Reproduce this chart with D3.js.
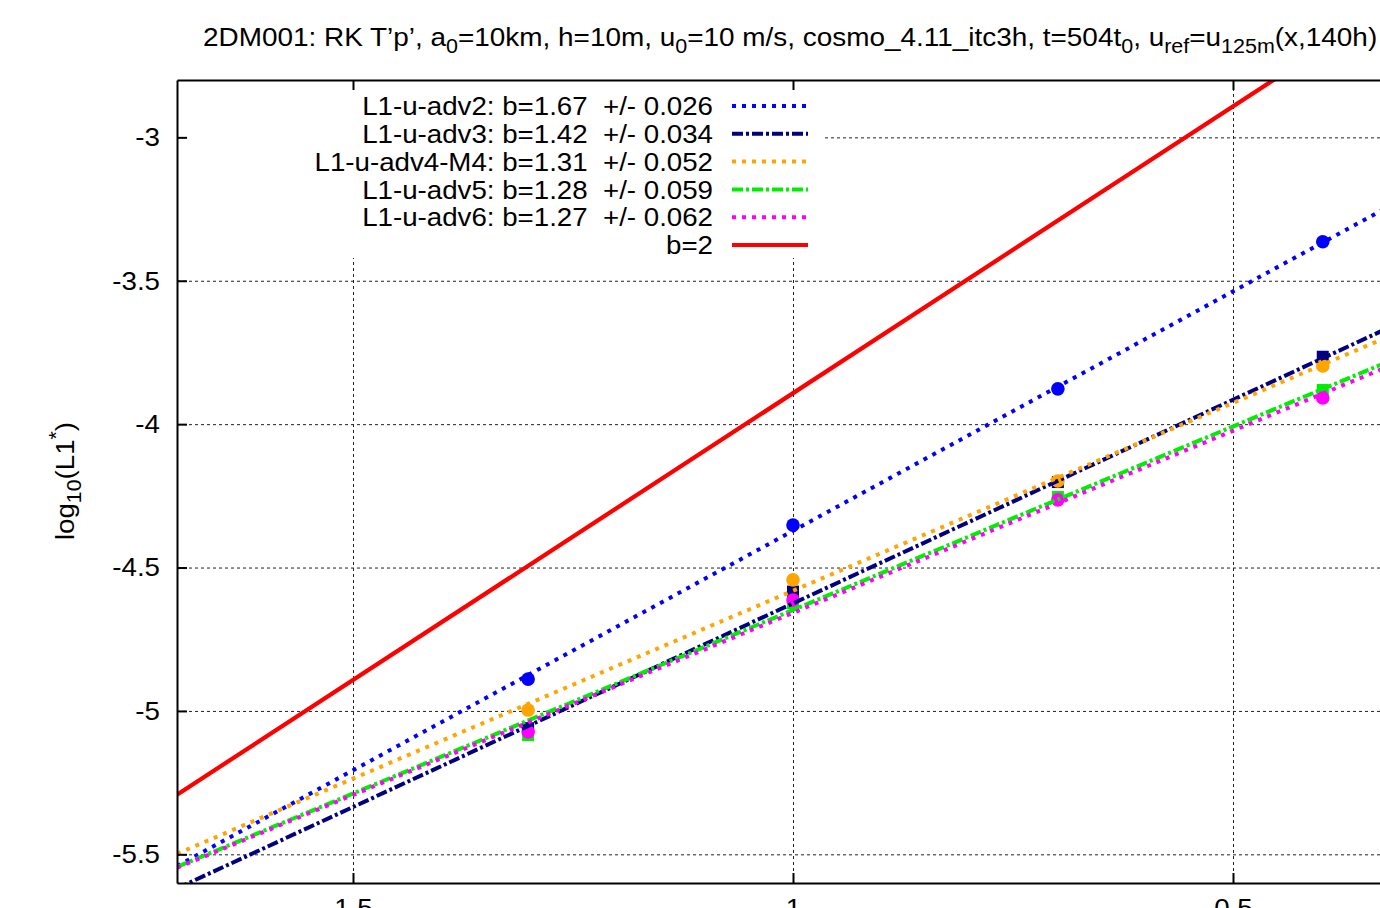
<!DOCTYPE html>
<html>
<head>
<meta charset="utf-8">
<script src="https://cdn.jsdelivr.net/npm/d3@7"></script>
<style>
  html, body { margin: 0; padding: 0; background: #fff; }
  svg { display: block; font-family: "Liberation Sans", Arial, sans-serif; }
</style>
</head>
<body>
<svg id="chart" width="1380" height="908"></svg>
<script>
// log10 of grid spacing (20, 10, 5, 2.5 km)
const xValues = [1.301, 1.0, 0.699, 0.398];

// log10 of the L1 error norm for each advection scheme
const adv2 = [-4.889, -4.352, -3.877, -3.364];
const adv3 = [-5.060, -4.584, -4.202, -3.765];
const adv4 = [-4.997, -4.543, -4.198, -3.797];
const adv5 = [-5.084, -4.624, -4.254, -3.881];
const adv6 = [-5.073, -4.613, -4.264, -3.909];

// fitted convergence rates, their errors and line offsets
const seriesNames = ["L1-u-adv2", "L1-u-adv3", "L1-u-adv4-M4", "L1-u-adv5", "L1-u-adv6"];
const slopes = [1.67, 1.42, 1.31, 1.28, 1.27];
const slopeErrors = ["0.026", "0.034", "0.052", "0.059", "0.062"];
const intercepts = [-2.702, -3.205, -3.271, -3.368, -3.388];

// second-order reference line
const refSlope = 2;
const refIntercept = -1.892;

const xTicks = [1.5, 1, 0.5];
const yTicks = [-3, -3.5, -4, -4.5, -5, -5.5];

const colors = ["#0000ff", "#000080", "#ffa500", "#00ee00", "#ff00ff"];
const dashes = ["4,6", "11,3,3,3", "4,6", "11,3,3,3", "4,6"];
const markers = ["circle", "square", "circle", "square", "circle"];
const seriesValues = [adv2, adv3, adv4, adv5, adv6];

const svg = d3.select("#chart");
const plot = { left: 177, right: 1409, top: 80, bottom: 883 };
const fontSize = 26, subSize = 20, stretch = 1.065;
const fmt = d => String(d);

const x = d3.scaleLinear().domain([1.7, 0.3]).range([plot.left, plot.right]);
const y = d3.scaleLinear().domain([-2.8, -5.6]).range([plot.top, plot.bottom]);

svg.append("defs").append("clipPath").attr("id", "plotClip")
  .append("rect")
  .attr("x", plot.left).attr("y", plot.top)
  .attr("width", plot.right - plot.left).attr("height", plot.bottom - plot.top);

// grid
const grid = svg.append("g").attr("class", "grid");
grid.append("g")
  .attr("transform", `translate(0,${plot.bottom})`)
  .call(d3.axisBottom(x).tickValues(xTicks).tickSize(-(plot.bottom - plot.top)).tickFormat(""))
  .call(g => g.select(".domain").remove());
grid.append("g")
  .attr("transform", `translate(${plot.left},0)`)
  .call(d3.axisLeft(y).tickValues(yTicks).tickSize(-(plot.right - plot.left)).tickFormat(""))
  .call(g => g.select(".domain").remove());
grid.selectAll("line")
  .attr("stroke", "#222").attr("stroke-width", 1).attr("stroke-dasharray", "3,3");

// series: markers, fitted lines, reference line
const body = svg.append("g").attr("clip-path", "url(#plotClip)");
const lineGen = d3.line().x(d => x(d[0])).y(d => y(d[1]));
const xDom = x.domain();

seriesValues.forEach((vals, i) => {
  const g = body.append("g");
  vals.forEach((v, j) => {
    if (markers[i] === "circle") {
      g.append("circle").attr("cx", x(xValues[j])).attr("cy", y(v)).attr("r", 6.8)
        .attr("fill", colors[i]);
    } else {
      g.append("rect").attr("x", x(xValues[j]) - 6).attr("y", y(v) - 6)
        .attr("width", 12).attr("height", 12).attr("fill", colors[i]);
    }
  });
});

seriesValues.forEach((vals, i) => {
  const pts = xDom.map(xv => [xv, intercepts[i] - slopes[i] * xv]);
  body.append("path").datum(pts).attr("d", lineGen)
    .attr("fill", "none").attr("stroke", colors[i])
    .attr("stroke-width", 4).attr("stroke-dasharray", dashes[i]);
});

const refPts = xDom.map(xv => [xv, refIntercept - refSlope * xv]);
body.append("path").datum(refPts).attr("d", lineGen)
  .attr("fill", "none").attr("stroke", "#ff0000").attr("stroke-width", 4.2);

// legend with opaque background
const legend = svg.append("g");
legend.append("rect").attr("x", plot.left + 1).attr("y", 90)
  .attr("width", 822 - plot.left - 1).attr("height", 168).attr("fill", "#fff");
const rowY = i => 106 + i * 27.8;
const legendRows = seriesNames.map((n, i) => ({
  label: `${n}: b=${slopes[i].toFixed(2)}  +/- ${slopeErrors[i]}`,
  color: colors[i], dash: dashes[i], width: 4
}));
legendRows.push({ label: `b=${refSlope}`, color: "#ff0000", dash: null, width: 4.2 });
legendRows.forEach((r, i) => {
  legend.append("text")
    .attr("transform", `translate(713,${rowY(i)}) scale(${stretch},1)`)
    .attr("dy", "0.35em")
    .attr("text-anchor", "end").attr("font-size", fontSize)
    .style("white-space", "pre").text(r.label);
  legend.append("line").attr("x1", 732).attr("x2", 808).attr("y1", rowY(i)).attr("y2", rowY(i))
    .attr("stroke", r.color).attr("stroke-width", r.width)
    .attr("stroke-dasharray", r.dash);
});

// axes (ticks point inward, labels outside)
const axLeft = svg.append("g").attr("transform", `translate(${plot.left},0)`)
  .call(d3.axisLeft(y).tickValues(yTicks).tickSizeInner(-10).tickSizeOuter(0).tickPadding(16)
    .tickFormat(fmt));
const axBottom = svg.append("g").attr("transform", `translate(0,${plot.bottom})`)
  .call(d3.axisBottom(x).tickValues(xTicks).tickSizeInner(-10).tickSizeOuter(0).tickPadding(16)
    .tickFormat(fmt));
const axTop = svg.append("g").attr("transform", `translate(0,${plot.top})`)
  .call(d3.axisTop(x).tickValues(xTicks).tickSizeInner(-10).tickSizeOuter(0).tickFormat(""));

[axLeft, axBottom, axTop].forEach(a => {
  a.select(".domain").attr("stroke", "#000").attr("stroke-width", 2);
  a.selectAll(".tick line").attr("stroke", "#000").attr("stroke-width", 2);
  a.selectAll(".tick text").attr("font-size", fontSize).attr("fill", "#000")
    .attr("font-family", "Liberation Sans, Arial, sans-serif")
    .attr("transform", `scale(${stretch},1)`);
});

// title with subscripts
const title = svg.append("text")
  .attr("transform", `translate(203,46) scale(1.074,1)`)
  .attr("font-size", fontSize).attr("fill", "#000");
const parts = [
  ["2DM001: RK T\u2019p\u2019, a"], ["0", "sub"], ["=10km, h=10m, u"], ["0", "sub"],
  ["=10 m/s, cosmo_4.11_itc3h, t=504t"], ["0", "sub"], [", u"], ["ref", "sub"],
  ["=u"], ["125m", "sub"], ["(x,140h)"]
];
parts.forEach(([t, kind], i) => {
  const ts = title.append("tspan").text(t);
  if (kind === "sub") ts.attr("font-size", subSize).attr("dy", 7);
  else if (i > 0) ts.attr("dy", -7);
});

// y axis label
const ylab = svg.append("text")
  .attr("transform", `translate(74,481) rotate(-90) scale(${stretch},1)`)
  .attr("text-anchor", "middle").attr("font-size", fontSize);
ylab.append("tspan").text("log");
ylab.append("tspan").text("10").attr("font-size", subSize).attr("dy", 7);
ylab.append("tspan").text("(L1").attr("dy", -7);
ylab.append("tspan").text("*").attr("font-size", subSize).attr("dy", -11);
ylab.append("tspan").text(")").attr("dy", 11);
</script>
</body>
</html>
